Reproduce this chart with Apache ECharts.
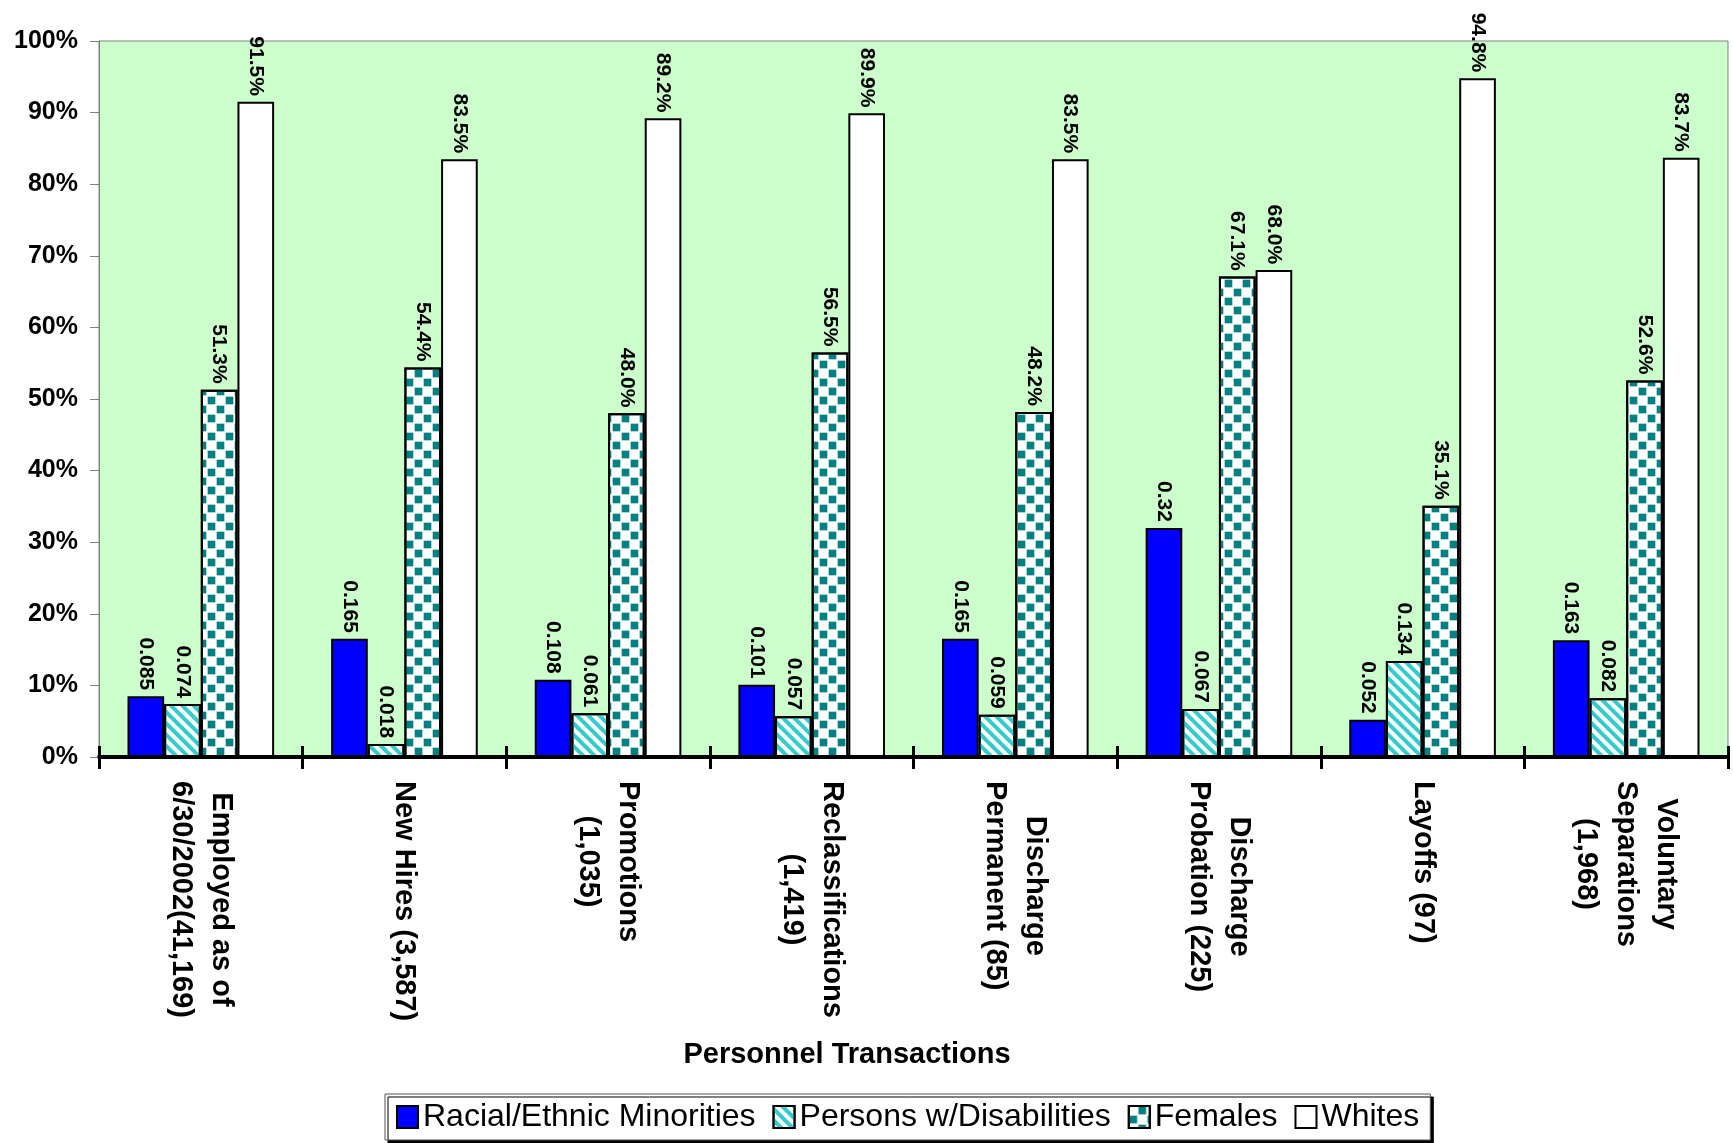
<!DOCTYPE html>
<html>
<head>
<meta charset="utf-8">
<script src="https://cdn.jsdelivr.net/npm/echarts@6/dist/echarts.min.js"></script>
<style>
html,body{margin:0;padding:0;background:#fff;}
#chart{width:1733px;height:1143px;}
</style>
</head>
<body>
<div id="chart"></div>
<script>
const categories = [
  'Employed as of\n6/30/2002(41,169)',
  'New Hires (3,587)',
  'Promotions\n(1,035)',
  'Reclassifications\n(1,419)',
  'Discharge\nPermanent (85)',
  'Discharge\nProbation (225)',
  'Layoffs (97)',
  'Voluntary\nSeparations\n(1,968)'
];
const minorities = [0.085, 0.165, 0.108, 0.101, 0.165, 0.32, 0.052, 0.163];
const disabilities = [0.074, 0.018, 0.061, 0.057, 0.059, 0.067, 0.134, 0.082];
const females = [0.513, 0.544, 0.480, 0.565, 0.482, 0.671, 0.351, 0.526];
const whites = [0.915, 0.835, 0.892, 0.899, 0.835, 0.680, 0.948, 0.837];
const yTickLabels = ['0%','10%','20%','30%','40%','50%','60%','70%','80%','90%','100%'];
const seriesNames = ['Racial/Ethnic Minorities', 'Persons w/Disabilities', 'Females', 'Whites'];

const FONT = '"Liberation Sans", Arial, sans-serif';

const chart = echarts.init(document.getElementById('chart'), null, {renderer: 'canvas'});

function valueLabel(fmt) {
  return {
    show: true,
    position: 'top',
    rotate: -90,
    align: 'right',
    verticalAlign: 'middle',
    distance: 6,
    fontFamily: FONT,
    fontSize: 21,
    fontWeight: 'bold',
    color: '#000',
    formatter: fmt
  };
}
const rawFmt = p => String(p.value);
const pctFmt = p => (p.value * 100).toFixed(1) + '%';
const border = {borderColor: '#000', borderWidth: 2};

const option = {
  animation: false,
  backgroundColor: '#ffffff',
  grid: {
    left: 99, right: 5, top: 41, bottom: 386,
    show: true, backgroundColor: '#CCFFCC', borderColor: '#808080', borderWidth: 1,
    containLabel: false
  },
  legend: {
    data: seriesNames,
    left: 385, top: 1094,
    orient: 'horizontal',
    itemWidth: 21, itemHeight: 22, itemGap: 17,
    padding: [7, 11, 7, 11],
    backgroundColor: '#ffffff',
    borderColor: '#555555', borderWidth: 1,
    shadowColor: '#000000', shadowBlur: 0, shadowOffsetX: 3, shadowOffsetY: 3,
    icon: 'rect',
    itemStyle: {borderColor: '#000', borderWidth: 2},
    textStyle: {fontFamily: FONT, fontSize: 32, color: '#000', padding: [0, 0, 0, 0]}
  },
  xAxis: [{
    type: 'category',
    position: 'bottom',
    data: categories,
    axisLine: {show: true, lineStyle: {color: '#000', width: 4}},
    axisTick: {show: true, inside: false, length: 12, lineStyle: {color: '#000', width: 3}},
    axisLabel: {
      show: true, interval: 0, rotate: -90, margin: 24,
      fontFamily: FONT, fontSize: 29, fontWeight: 'bold', color: '#000', lineHeight: 40,
      formatter: v => v.split('\n').map(s => '{c|' + s + '}').join('\n'),
      rich: {c: {align: 'center', fontFamily: FONT, fontSize: 29, fontWeight: 'bold', color: '#000', lineHeight: 40}}
    },
    splitLine: {show: false}
  }, {
    type: 'category',
    position: 'bottom',
    data: categories,
    axisLine: {show: false},
    axisTick: {show: true, inside: true, length: 11, lineStyle: {color: '#000', width: 3}},
    axisLabel: {show: false},
    splitLine: {show: false}
  }],
  yAxis: {
    type: 'value',
    min: 0, max: 1, interval: 0.1,
    axisLine: {show: true, lineStyle: {color: '#808080', width: 1}},
    axisTick: {show: true, length: 9, lineStyle: {color: '#808080', width: 1}},
    splitLine: {show: false},
    axisLabel: {
      margin: 21,
      fontFamily: FONT, fontSize: 25, fontWeight: 'bold', color: '#000',
      formatter: v => yTickLabels[Math.round(v * 10)]
    }
  },
  graphic: [{
    type: 'text',
    x: 847, y: 1055,
    style: {
      text: 'Personnel Transactions',
      textAlign: 'center', textVerticalAlign: 'middle',
      font: 'bold 29px ' + FONT, fill: '#000'
    }
  }],
  series: [{
    name: seriesNames[0], type: 'bar', xAxisIndex: 0,
    data: minorities,
    barGap: '0%', barCategoryGap: '28%',
    itemStyle: Object.assign({color: '#0000FF'}, border),
    label: valueLabel(rawFmt)
  }, {
    name: seriesNames[1], type: 'bar', xAxisIndex: 0,
    data: disabilities,
    barGap: '0%', barCategoryGap: '28%',
    itemStyle: Object.assign({
      color: '#ffffff',
      decal: {symbol: 'rect', symbolSize: 1, color: '#33CCCC', dashArrayX: [1, 0], dashArrayY: [4, 4], rotation: Math.PI / 4}
    }, border),
    label: valueLabel(rawFmt)
  }, {
    name: seriesNames[2], type: 'bar', xAxisIndex: 0,
    data: females,
    barGap: '0%', barCategoryGap: '28%',
    itemStyle: Object.assign({
      color: '#ffffff',
      decal: {symbol: 'rect', symbolSize: 0.85, color: '#008080', dashArrayX: [[9, 9], [0, 9, 9, 0]], dashArrayY: [9, 0], rotation: 0}
    }, border),
    label: valueLabel(pctFmt)
  }, {
    name: seriesNames[3], type: 'bar', xAxisIndex: 0,
    data: whites,
    barGap: '0%', barCategoryGap: '28%',
    itemStyle: Object.assign({color: '#ffffff'}, border),
    label: valueLabel(pctFmt)
  }]
};
chart.setOption(option);
</script>
</body>
</html>
